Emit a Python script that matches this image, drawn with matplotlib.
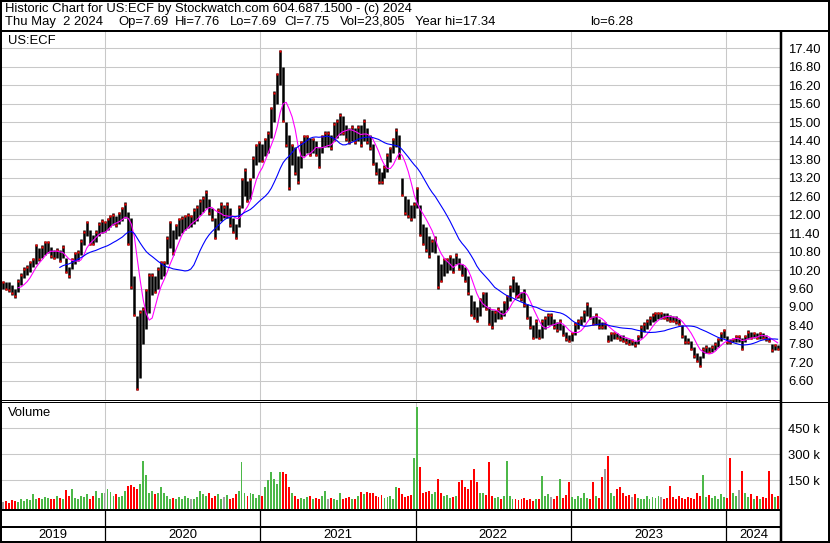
import numpy as np
import pandas as pd
import matplotlib
matplotlib.use("Agg")
import matplotlib.pyplot as plt
import matplotlib.dates as mdates
from matplotlib.lines import Line2D

plt.rcParams['font.family'] = ['Liberation Sans', 'DejaVu Sans']

# weekly high / low (USD)
hi = [9.85, 9.8, 9.8, 9.7, 9.6, 9.9, 10.1, 10.3, 10.35, 10.5, 10.6, 11.05, 10.9,
      11.0, 11.15, 11.15, 10.95, 10.85, 10.9, 10.85, 11.0, 10.6, 10.3, 10.6, 10.8, 10.85,
      11.2, 11.5, 11.8, 11.5, 11.35, 11.5, 11.75, 11.85, 11.8, 11.9, 12.0, 12.05, 11.95,
      12.1, 12.25, 12.4, 12.1, 11.9, 10.0, 8.7, 8.9, 9.0, 9.6, 10.1, 10.1, 10.0,
      10.3, 10.5, 10.5, 11.3, 11.8, 11.5, 11.7, 11.9, 11.95, 12.0, 12.05, 12.0, 12.2,
      12.3, 12.5, 12.6, 12.8, 12.5, 12.2, 11.9, 12.2, 12.4, 12.3, 12.4, 12.2, 11.9,
      11.7, 12.3, 13.2, 13.5, 13.1, 13.2, 13.9, 14.3, 14.4, 14.3, 14.5, 14.7, 15.5,
      16.0, 16.6, 17.35, 16.8, 15.0, 14.6, 14.3, 14.2, 13.9, 14.4, 14.6, 14.6, 14.5,
      14.5, 14.4, 14.2, 14.6, 14.7, 14.7, 14.6, 15.0, 15.1, 15.3, 15.2, 14.9, 14.8,
      14.9, 14.8, 14.9, 14.9, 15.1, 14.8, 14.6, 14.3, 13.7, 13.5, 13.4, 13.6, 14.0,
      14.2, 14.5, 14.8, 14.6, 13.2, 12.6, 12.5, 12.3, 12.4, 12.9, 12.3, 11.7, 11.6,
      11.3, 11.2, 11.3, 10.7, 10.4, 10.6, 10.6, 10.7, 10.6, 10.75, 10.6, 10.4, 10.3,
      10.0, 9.4, 9.2, 9.0, 9.3, 9.5, 9.5, 9.0, 8.9, 8.9, 9.0, 8.9, 9.2,
      9.4, 9.7, 10.0, 9.8, 9.7, 9.5, 9.6, 9.1, 8.7, 8.4, 8.6, 8.3, 8.6,
      8.7, 8.8, 8.8, 8.6, 8.5, 8.6, 8.4, 8.2, 8.1, 8.2, 8.5, 8.6, 8.7,
      8.9, 9.15, 9.0, 8.7, 8.8, 8.6, 8.5, 8.5, 8.1, 8.2, 8.2, 8.15, 8.1,
      8.1, 8.0, 7.95, 7.95, 7.9, 8.1, 8.4, 8.5, 8.6, 8.7, 8.8, 8.85, 8.85,
      8.85, 8.8, 8.8, 8.75, 8.7, 8.7, 8.6, 8.4, 8.1, 8.0, 7.9, 7.7, 7.5,
      7.4, 7.7, 7.75, 7.7, 7.75, 7.85, 8.0, 8.2, 8.3, 8.05, 7.95, 8.0, 8.1,
      8.1, 8.0, 8.1, 8.25, 8.2, 8.2, 8.15, 8.2, 8.15, 8.1, 8.0, 7.8, 7.8, 7.75]
lo = [9.6, 9.55, 9.5, 9.4, 9.3, 9.5, 9.7, 9.95, 10.05, 10.15, 10.3, 10.4, 10.5,
      10.6, 10.7, 10.75, 10.6, 10.55, 10.6, 10.45, 10.6, 10.1, 9.95, 10.25, 10.4, 10.5,
      10.7, 11.0, 11.3, 11.0, 11.0, 11.1, 11.3, 11.4, 11.45, 11.5, 11.6, 11.65, 11.6,
      11.7, 11.8, 11.9, 11.0, 9.6, 8.7, 6.3, 6.7, 7.8, 8.3, 8.8, 9.4, 9.45,
      9.6, 9.9, 10.0, 10.4, 10.9, 10.7, 11.2, 11.3, 11.4, 11.5, 11.55, 11.6, 11.7,
      11.8, 12.0, 12.1, 12.2, 12.0, 11.8, 11.2, 11.5, 11.8, 11.9, 11.9, 11.6, 11.4,
      11.2, 11.6, 12.2, 12.6, 12.4, 12.5, 13.2, 13.6, 13.7, 13.7, 13.9, 14.0, 14.5,
      15.0, 15.6, 16.2, 15.0, 14.2, 12.8, 13.6, 13.3, 13.0, 13.5, 13.9, 14.0, 13.9,
      14.0, 13.9, 13.5, 14.0, 14.2, 14.2, 14.1, 14.4, 14.5, 14.6, 14.6, 14.4, 14.3,
      14.4, 14.3, 14.4, 14.2, 14.4, 14.3, 14.1, 13.6, 13.3, 13.0, 13.0, 13.2, 13.4,
      13.7, 14.0, 14.2, 13.8, 12.6, 12.0, 11.9, 11.8, 11.9, 12.2, 11.3, 11.0, 10.8,
      10.6, 10.8, 10.75, 9.6, 9.8, 10.0, 10.1, 10.2, 10.1, 10.4, 10.2, 10.0, 9.8,
      9.4, 8.7, 8.6, 8.5, 8.7, 9.0, 8.9, 8.4, 8.3, 8.5, 8.6, 8.6, 8.7,
      8.9, 9.2, 9.5, 9.3, 9.3, 9.2, 9.0, 8.6, 8.3, 7.95, 8.0, 7.95, 8.0,
      8.3, 8.4, 8.4, 8.3, 8.2, 8.25, 8.05, 7.9, 7.85, 7.9, 8.1, 8.3, 8.4,
      8.5, 8.7, 8.6, 8.4, 8.4, 8.3, 8.3, 8.3, 7.85, 7.9, 7.95, 7.95, 7.9,
      7.85, 7.8, 7.75, 7.75, 7.7, 7.8, 8.0, 8.2, 8.3, 8.4, 8.5, 8.55, 8.6,
      8.6, 8.6, 8.55, 8.5, 8.5, 8.45, 8.4, 8.0, 7.8, 7.8, 7.6, 7.35, 7.2,
      7.05, 7.35, 7.5, 7.5, 7.55, 7.6, 7.7, 7.9, 8.0, 7.8, 7.8, 7.85, 7.85,
      7.85, 7.6, 7.85, 7.95, 7.95, 8.0, 7.95, 7.95, 7.95, 7.9, 7.85, 7.55, 7.6, 7.6]

# weekly volume, thousands of shares
vol = [25, 30, 20, 35, 30, 25, 40, 30, 45, 35, 70, 40, 50,
       45, 55, 50, 40, 45, 60, 50, 45, 95, 60, 100, 50, 45,
       60, 55, 70, 45, 60, 90, 50, 75, 80, 100, 85, 60, 70,
       55, 60, 90, 120, 125, 110, 100, 130, 260, 180, 80, 90, 70,
       75, 110, 80, 60, 45, 50, 40, 55, 45, 60, 50, 40, 45,
       55, 90, 70, 60, 75, 50, 60, 70, 45, 55, 65, 40, 50,
       70, 90, 255, 80, 60, 75, 70, 50, 65, 60, 110, 150, 200,
       160, 130, 200, 200, 190, 110, 80, 60, 45, 50, 40, 55, 60,
       45, 50, 40, 60, 90, 45, 50, 40, 35, 80, 45, 50, 55,
       45, 40, 60, 85, 70, 85, 75, 80, 60, 55, 65, 50, 55,
       60, 45, 110, 105, 70, 55, 60, 65, 280, 575, 230, 80, 85,
       90, 70, 85, 160, 75, 60, 65, 50, 55, 60, 140, 150, 110,
       100, 150, 215, 140, 80, 75, 65, 255, 60, 50, 55, 45, 60,
       262, 60, 45, 40, 35, 45, 50, 35, 40, 30, 45, 40, 175,
       60, 70, 55, 45, 60, 160, 50, 65, 140, 55, 45, 60, 50,
       75, 50, 45, 140, 60, 50, 170, 215, 290, 75, 60, 100, 110,
       80, 60, 65, 55, 70, 50, 45, 40, 60, 45, 55, 50, 60,
       55, 45, 50, 120, 55, 45, 60, 50, 40, 55, 50, 45, 75,
       60, 180, 55, 65, 50, 60, 45, 70, 55, 50, 280, 75, 60,
       95, 205, 80, 55, 70, 45, 60, 40, 55, 50, 205, 70, 55, 60]

years = ['2019', '2020', '2021', '2022', '2023', '2024']
price_ticks = [6.6, 7.2, 7.8, 8.4, 9.0, 9.6, 10.2, 10.8, 11.4, 12.0, 12.6, 13.2,
               13.8, 14.4, 15.0, 15.6, 16.2, 16.8, 17.4]
vol_ticks = [150, 300, 450]

header1 = "Historic Chart for US:ECF by Stockwatch.com 604.687.1500 - (c) 2024"
header2 = ["Thu May  2 2024", "Op=7.69", "Hi=7.76", "Lo=7.69", "Cl=7.75",
           "Vol=23,805", "Year hi=17.34", "lo=6.28"]
header2_x = [5, 118, 175, 230, 284, 340, 415, 590]

W, H = 830, 543
FS = 9.4
fig = plt.figure(figsize=(W / 100, H / 100), dpi=100)

def box(x0, y0, x1, y1):
    return [x0 / W, 1 - y1 / H, (x1 - x0) / W, (y1 - y0) / H]

def line(xs, ys, lw=1.0):
    fig.add_artist(Line2D([x / W for x in xs], [1 - y / H for y in ys],
                          color='black', lw=lw * 0.72, transform=fig.transFigure,
                          solid_capstyle='butt'))

dates = pd.date_range('2019-05-08', periods=len(hi), freq='7D')
hi = np.array(hi)
lo = np.array(lo)
mid = (hi + lo) / 2
ma_short = pd.Series(mid).rolling(6).mean()
ma_long = pd.Series(mid).rolling(20).mean()
xlim = (mdates.date2num(pd.Timestamp('2019-05-05')), mdates.date2num(pd.Timestamp('2024-05-09')))
year_starts = [pd.Timestamp(f'{y}-01-01') for y in years[1:]]
grid_c = '#c8c8c8'

# price panel
ax = fig.add_axes(box(2, 32, 781, 400))
ax.set_xlim(xlim)
ax.set_ylim(5.98, 17.93)
for t in price_ticks:
    ax.axhline(t, color=grid_c, lw=0.75, zorder=0)
for d in year_starts:
    ax.axvline(d, color=grid_c, lw=0.75, zorder=0)
ax.vlines(dates, lo, hi, color='black', lw=1.8, zorder=2)
up = np.r_[True, np.diff(mid) >= 0]
close_proxy = np.where(up, hi - 0.05, lo + 0.05)
ax.plot(dates, close_proxy, ls='none', marker='s', ms=1.5, mec='none', mfc='red', zorder=3)
ax.plot(dates, ma_short, color='#ff00ff', lw=0.8, zorder=4)
ax.plot(dates, ma_long, color='#0000ff', lw=0.8, zorder=4)
ax.yaxis.tick_right()
ax.set_yticks(price_ticks)
ax.set_yticklabels([f'{t:.2f}' for t in price_ticks], fontsize=FS)
ax.tick_params(axis='y', length=0, pad=5)
ax.set_xticks([])
for s in ax.spines.values():
    s.set_visible(False)
ax.text(6 / 779, 1 - 9 / 368, 'US:ECF', transform=ax.transAxes, fontsize=FS, va='center')

# volume panel
vx = fig.add_axes(box(2, 402, 781, 509))
vx.set_xlim(xlim)
vbot = -15
vx.set_ylim(vbot, 603)
for t in vol_ticks:
    vx.axhline(t, color=grid_c, lw=0.75, zorder=0)
for d in year_starts:
    vx.axvline(d, color=grid_c, lw=0.75, zorder=0)
chg = np.r_[0, np.diff(mid)]
vcol = np.where(chg > 0, '#4cb848', np.where(chg < 0, '#ff0000', '#a0a0a0'))
vol = np.array(vol)
vx.bar(dates, vol - vbot, bottom=vbot, width=4.5, color=vcol, zorder=2)
vx.yaxis.tick_right()
vx.set_yticks(vol_ticks)
vx.set_yticklabels([f'{t} k' for t in vol_ticks], fontsize=FS)
vx.tick_params(axis='y', length=0, pad=5)
vx.set_xticks([])
for s in vx.spines.values():
    s.set_visible(False)
vx.text(6 / 779, 1 - 11 / 107, 'Volume', transform=vx.transAxes, fontsize=FS, va='center')

# year strip
yx = fig.add_axes(box(2, 510, 781, 542))
yx.set_xlim(xlim)
yx.set_ylim(0, 1)
yx.axis('off')
edges = [xlim[0]] + [mdates.date2num(d) for d in year_starts] + [xlim[1]]
for d in year_starts:
    yx.axvline(d, color='black', lw=0.9)
for i, yr in enumerate(years):
    yx.text((edges[i] + edges[i + 1]) / 2, 0.22, yr, ha='center', va='center', fontsize=FS)

# header and frame lines
fig.text(5 / W, 1 - 9 / H, header1, fontsize=FS, va='center')
for s, xp in zip(header2, header2_x):
    fig.text(xp / W, 1 - 22 / H, s, fontsize=FS, va='center')
line([0, W], [31, 31], 2)
line([0, 781], [400, 400], 1)
line([0, W], [402, 402], 1)
line([0, 781], [510, 510], 2)
line([0, 781], [527, 527], 2)
line([781, 781], [31, H], 2.5)
line([1, 1], [0, H], 2)
line([W - 1, W - 1], [0, H], 2)
line([0, W], [1, 1], 2)
line([0, W], [H - 1, H - 1], 2)

fig.savefig('out.png', dpi=100)
